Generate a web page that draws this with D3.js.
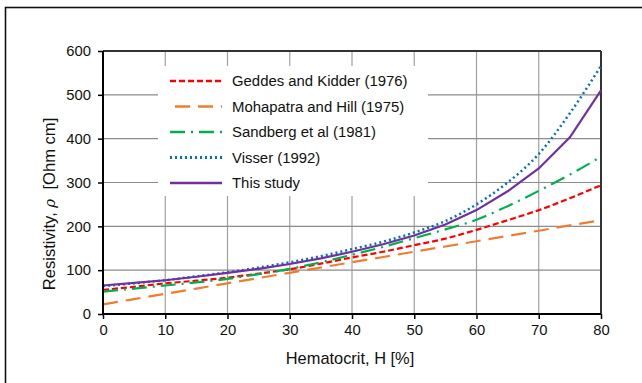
<!DOCTYPE html>
<html><head><meta charset="utf-8">
<script src="https://cdn.jsdelivr.net/npm/d3@7"></script>
<style>
html,body{margin:0;padding:0;background:#fff;}
svg{display:block;font-family:"Liberation Sans",Arial,sans-serif;}
</style></head>
<body>
<svg id="chart" width="642" height="383"></svg>
<script>
const hematocrit = [0,5,10,15,20,25,30,35,40,45,50,55,60,65,70,75,80];
const geddes    = [55,62,70,76,83,92,102,115,129,142,157,172,192,214,237,264,294];
const mohapatra = [22,34,46,58,70,82,94,106,118,130,142,154,166,178,190,202,214];
const sandberg  = [51,58,65,72,80,91,103,118,135,153,173,193,215,246,281,318,359];
const visser    = [64,70,77,86,95,106,118,132,148,165,186,212,250,300,365,458,566];
const thisStudy = [65,71,77,85,94,103,114,127,142,159,179,204,237,280,332,403,510];
const seriesNames = ["Geddes and Kidder (1976)","Mohapatra and Hill (1975)","Sandberg et al (1981)","Visser (1992)","This study"];
const xTicks = [0,10,20,30,40,50,60,70,80];
const yTicks = [0,100,200,300,400,500,600];

const series = [
  {name:seriesNames[0], values:geddes,    color:"#ff0000", dash:"6,3",        width:2.2, curve:d3.curveMonotoneX},
  {name:seriesNames[1], values:mohapatra, color:"#ed7d31", dash:"15,8",       width:2.2, curve:d3.curveMonotoneX},
  {name:seriesNames[2], values:sandberg,  color:"#00b050", dash:"15,6,2,6",   width:2.2, curve:d3.curveMonotoneX},
  {name:seriesNames[3], values:visser,    color:"#0070c0", dash:"2,3",        width:2.5, curve:d3.curveMonotoneX},
  {name:seriesNames[4], values:thisStudy, color:"#7030a0", dash:null,         width:2.2, curve:d3.curveLinear}
];

const svg = d3.select("#chart");
const x = d3.scaleLinear().domain([0,80]).range([103,601]);
const y = d3.scaleLinear().domain([0,600]).range([314,51]);

// outer frame
svg.append("rect").attr("x",5.5).attr("y",7.5).attr("width",700).attr("height",500)
  .attr("fill","none").attr("stroke","#111").attr("stroke-width",1.6);

// grid
const grid = svg.append("g");
grid.selectAll("line.v").data(xTicks.slice(1,-1)).join("line")
  .attr("x1",d=>x(d)).attr("x2",d=>x(d)).attr("y1",y(600)).attr("y2",y(0))
  .attr("stroke","#a0a0a0").attr("stroke-width",1.2);
grid.selectAll("line.h").data(yTicks.slice(1,-1)).join("line")
  .attr("x1",x(0)).attr("x2",x(80)).attr("y1",d=>y(d)).attr("y2",d=>y(d))
  .attr("stroke","#8c8c8c").attr("stroke-width",1.2);

// legend background
svg.append("rect").attr("x",158).attr("y",66).attr("width",270).attr("height",130).attr("fill","#fff");

// plot border top/right
svg.append("line").attr("x1",x(0)).attr("x2",x(80)).attr("y1",y(600)).attr("y2",y(600)).attr("stroke","#333").attr("stroke-width",2);
svg.append("line").attr("x1",x(80)).attr("x2",x(80)).attr("y1",y(600)).attr("y2",y(0)).attr("stroke","#333").attr("stroke-width",2);

// lines
series.forEach(s=>{
  const line = d3.line().x((d,i)=>x(hematocrit[i])).y(d=>y(d)).curve(s.curve);
  svg.append("path").datum(s.values).attr("d",line).attr("fill","none")
    .attr("stroke",s.color).attr("stroke-width",s.width)
    .attr("stroke-dasharray",s.dash);
});

// axes
const xAxis = d3.axisBottom(x).tickValues(xTicks).tickSize(5).tickPadding(5);
const yAxis = d3.axisLeft(y).tickValues(yTicks).tickSize(5).tickPadding(7);
const gx = svg.append("g").attr("transform",`translate(0,${y(0)})`).call(xAxis);
const gy = svg.append("g").attr("transform",`translate(${x(0)},0)`).call(yAxis);
[gx,gy].forEach(g=>{
  g.select(".domain").attr("stroke","#000").attr("stroke-width",2);
  g.selectAll(".tick line").attr("stroke","#000").attr("stroke-width",1.5);
  g.selectAll(".tick text").attr("fill","#111").attr("font-size","14.8px")
    .attr("font-family",'"Liberation Sans",Arial,sans-serif');
});
gx.select(".domain").attr("d",`M${x(0)},0H${x(80)}`);
gy.select(".domain").attr("d",`M0,${y(0)}V${y(600)}`);

// axis titles
svg.append("text").attr("x",350).attr("y",364).attr("text-anchor","middle")
  .attr("font-size","16.4px").attr("fill","#111").text("Hematocrit, H [%]");
const yt = svg.append("text").attr("transform","translate(55,204) rotate(-90)")
  .attr("text-anchor","middle").attr("font-size","16.6px").attr("fill","#111").attr("xml:space","preserve");
yt.append("tspan").text("Resistivity, ");
yt.append("tspan").attr("font-style","italic").attr("font-family","'DejaVu Serif',serif").attr("font-size","15px").text("ρ");
yt.append("tspan").text("  [Ohm cm]");

// legend
const lg = svg.append("g");
series.forEach((s,i)=>{
  const yy = 81 + i*25.5;
  lg.append("line").attr("x1", i===1?175:170).attr("x2",222).attr("y1",yy).attr("y2",yy)
    .attr("stroke",s.color).attr("stroke-width",s.width+0.3).attr("stroke-dasharray",s.dash);
  lg.append("text").attr("x",232).attr("y",yy+5).attr("font-size","14.9px").attr("fill","#111").text(s.name);
});
</script>
</body></html>
